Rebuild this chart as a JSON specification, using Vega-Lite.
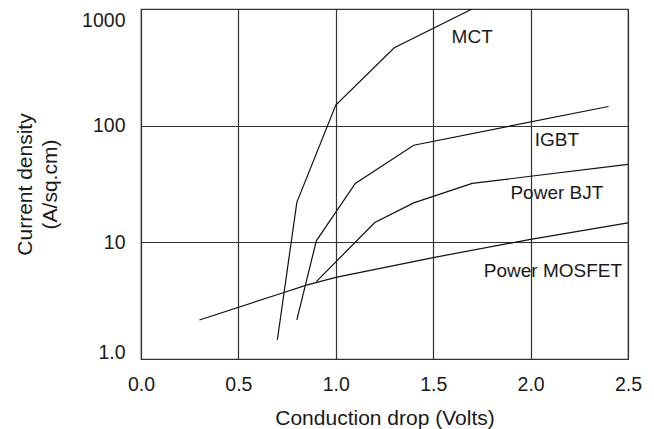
{
  "$schema": "https://vega.github.io/schema/vega-lite/v6.json",
  "width": 487,
  "height": 350,
  "autosize": "none",
  "padding": {"left": 141, "top": 9, "right": 26, "bottom": 70},
  "background": "white",
  "config": {
    "font": "Liberation Sans",
    "view": {"stroke": "#333333", "strokeWidth": 1.2},
    "axis": {
      "labelFont": "Liberation Sans",
      "titleFont": "Liberation Sans",
      "labelFontSize": 19.5,
      "titleFontSize": 21,
      "labelColor": "#1a1a1a",
      "titleColor": "#1a1a1a",
      "titleFontWeight": "normal",
      "ticks": false,
      "domain": false,
      "grid": true,
      "gridColor": "#333333",
      "gridWidth": 1.2,
      "gridOpacity": 1
    }
  },
  "datasets": {
    "curves": [
      {"device": "MCT", "v": 0.70, "j": 1.46},
      {"device": "MCT", "v": 0.80, "j": 22},
      {"device": "MCT", "v": 1.00, "j": 150},
      {"device": "MCT", "v": 1.30, "j": 465},
      {"device": "MCT", "v": 1.70, "j": 1000},
      {"device": "IGBT", "v": 0.80, "j": 2.16},
      {"device": "IGBT", "v": 0.90, "j": 10.3},
      {"device": "IGBT", "v": 1.10, "j": 32},
      {"device": "IGBT", "v": 1.40, "j": 68},
      {"device": "IGBT", "v": 2.40, "j": 146},
      {"device": "Power BJT", "v": 0.90, "j": 4.6},
      {"device": "Power BJT", "v": 1.20, "j": 14.8},
      {"device": "Power BJT", "v": 1.40, "j": 21.8},
      {"device": "Power BJT", "v": 1.70, "j": 32},
      {"device": "Power BJT", "v": 2.50, "j": 46.6},
      {"device": "Power MOSFET", "v": 0.30, "j": 2.16},
      {"device": "Power MOSFET", "v": 0.73, "j": 3.7},
      {"device": "Power MOSFET", "v": 0.85, "j": 4.3},
      {"device": "Power MOSFET", "v": 1.00, "j": 5.0},
      {"device": "Power MOSFET", "v": 1.50, "j": 7.4},
      {"device": "Power MOSFET", "v": 2.00, "j": 10.6},
      {"device": "Power MOSFET", "v": 2.50, "j": 14.7}
    ],
    "labels": [
      {"name": "MCT", "v": 1.70, "j": 575},
      {"name": "IGBT", "v": 2.135, "j": 75},
      {"name": "Power BJT", "v": 2.135, "j": 26.4},
      {"name": "Power MOSFET", "v": 2.115, "j": 5.7}
    ]
  },
  "layer": [
    {
      "data": {"name": "curves"},
      "mark": {"type": "line", "color": "#111111", "strokeWidth": 1.2, "clip": true},
      "encoding": {
        "x": {
          "field": "v", "type": "quantitative",
          "scale": {"domain": [0, 2.5], "nice": false},
          "axis": {"values": [0, 0.5, 1, 1.5, 2, 2.5], "format": ".1f", "labelFlush": false, "labelPadding": 16, "title": "Conduction drop (Volts)", "titlePadding": 14}
        },
        "y": {
          "field": "j", "type": "quantitative",
          "scale": {"type": "log", "domain": [1, 1000], "nice": false},
          "axis": {
            "values": [1, 10, 100, 1000],
            "labelExpr": "datum.value == 1 ? '1.0' : format(datum.value, 'd')",
            "labelFlush": false,
            "labelPadding": 16,
            "labelBaseline": "middle",
            "labelOffset": {"expr": "datum.value == 1000 ? 11 : datum.value == 1 ? -7 : 0"},
            "title": ["Current density", "(A/sq.cm)"],
            "titlePadding": 21,
            "titleLineHeight": 25
          }
        },
        "detail": {"field": "device"}
      }
    },
    {
      "data": {"name": "labels"},
      "mark": {"type": "text", "font": "Liberation Sans", "fontSize": 19, "color": "#1a1a1a", "align": "center", "baseline": "middle"},
      "encoding": {
        "x": {"field": "v", "type": "quantitative"},
        "y": {"field": "j", "type": "quantitative"},
        "text": {"field": "name"}
      }
    }
  ]
}
